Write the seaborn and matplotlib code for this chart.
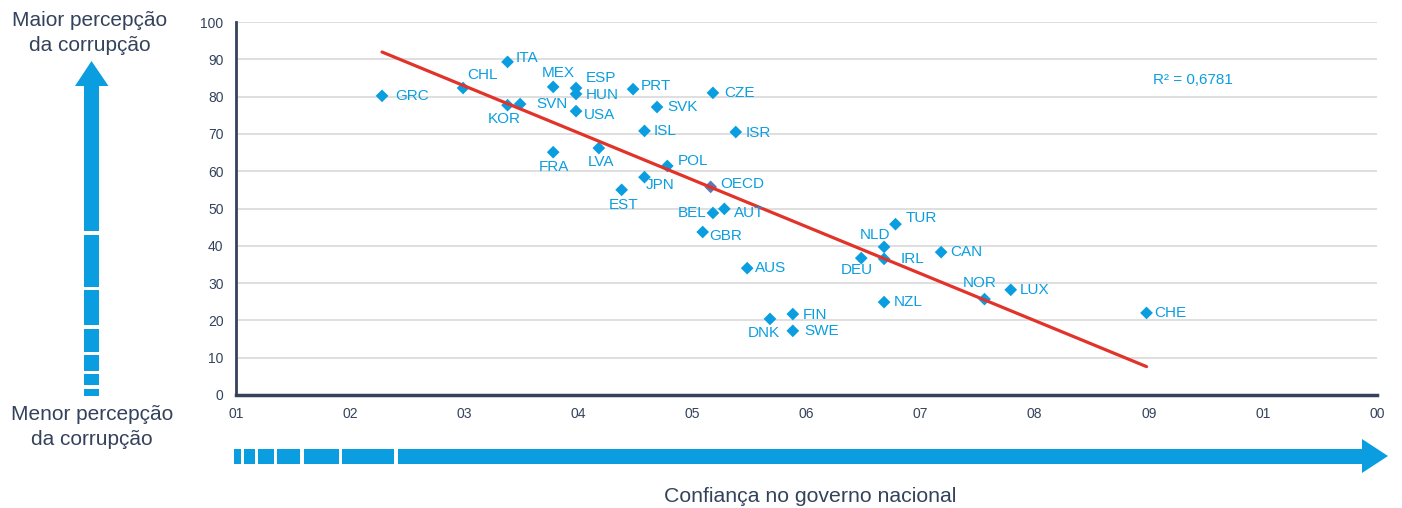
import matplotlib

matplotlib.use("Agg")

import matplotlib.pyplot as plt
import numpy as np
import pandas as pd
import seaborn as sns
from matplotlib.patches import Polygon, Rectangle

# Data
countries = [
    "GRC", "CHL", "ITA", "KOR", "SVN", "MEX", "ESP", "HUN", "USA", "FRA",
    "LVA", "EST", "PRT", "SVK", "ISL", "JPN", "POL", "CZE", "ISR", "OECD",
    "BEL", "AUT", "GBR", "AUS", "DNK", "FIN", "SWE", "TUR", "NLD", "DEU",
    "IRL", "CAN", "NZL", "NOR", "LUX", "CHE",
]
trust = [
    12.8, 19.9, 23.8, 23.8, 24.9, 27.8, 29.8, 29.8, 29.8, 27.8,
    31.8, 33.8, 34.8, 36.9, 35.8, 35.8, 37.8, 41.8, 43.8, 41.6,
    41.8, 42.8, 40.9, 44.8, 46.8, 48.8, 48.8, 57.8, 56.8, 54.8,
    56.8, 61.8, 56.8, 65.6, 67.9, 79.8,
]
corruption = [
    80.2, 82.3, 89.3, 77.7, 78.0, 82.6, 82.3, 80.7, 76.1, 65.1,
    66.2, 55.0, 82.0, 77.2, 70.8, 58.4, 61.4, 81.0, 70.5, 55.8,
    48.8, 49.9, 43.7, 34.0, 20.4, 21.7, 17.2, 45.8, 39.7, 36.7,
    36.5, 38.3, 24.9, 25.7, 28.2, 22.0,
]
x_ticks = [0, 10, 20, 30, 40, 50, 60, 70, 80, 90, 100]
x_tick_labels = ["01", "02", "03", "04", "05", "06", "07", "08", "09", "01", "00"]
y_ticks = [0, 10, 20, 30, 40, 50, 60, 70, 80, 90, 100]
r2_text = "R² = 0,6781"

# label placement: (dx px, dy px downwards, horizontal alignment)
label_pos = {
    "GRC": (13, 0, "left"), "CHL": (4, -13, "left"), "ITA": (8, -4, "left"),
    "KOR": (-3, 14, "center"), "SVN": (16, 0, "left"), "MEX": (5, -14, "center"),
    "ESP": (10, -10, "left"), "HUN": (10, 1, "left"), "USA": (8, 4, "left"),
    "FRA": (1, 15, "center"), "LVA": (2, 14, "center"), "EST": (2, 15, "center"),
    "PRT": (8, -3, "left"), "SVK": (10, 0, "left"), "ISL": (9, 0, "left"),
    "JPN": (1, 8, "left"), "POL": (10, -5, "left"), "CZE": (11, 0, "left"),
    "ISR": (10, 1, "left"), "OECD": (10, -3, "left"), "BEL": (-6, 0, "right"),
    "AUT": (10, 4, "left"), "GBR": (7, 4, "left"), "AUS": (8, 0, "left"),
    "DNK": (-6, 14, "center"), "FIN": (10, 1, "left"), "SWE": (12, 0, "left"),
    "TUR": (10, -6, "left"), "NLD": (-9, -12, "center"), "DEU": (-4, 12, "center"),
    "IRL": (17, 0, "left"), "CAN": (9, 0, "left"), "NZL": (10, 0, "left"),
    "NOR": (-5, -16, "center"), "LUX": (9, 0, "left"), "CHE": (8, 0, "left"),
}

BLUE = "#0a9ee0"
NAVY = "#34425c"
RED = "#e2332a"
W, H = 1402, 508

sns.set_theme(style="white")
plt.rcParams["font.family"] = ["Liberation Sans", "DejaVu Sans"]

df = pd.DataFrame({"country": countries, "trust": trust, "corruption": corruption})

fig = plt.figure(figsize=(W / 100, H / 100), dpi=100)
ax = fig.add_axes([236 / W, 1 - 395 / H, (1377 - 236) / W, (395 - 22) / H])

sns.scatterplot(
    data=df[df["country"] != "OECD"], x="trust", y="corruption",
    marker="D", s=42, color=BLUE, edgecolor="none", ax=ax, zorder=3,
)
sns.scatterplot(
    data=df[df["country"] == "OECD"], x="trust", y="corruption",
    marker="D", s=42, color="#5a78b4", edgecolor="none", ax=ax, zorder=3,
)
sns.regplot(
    data=df, x="trust", y="corruption", scatter=False, ci=None, truncate=True,
    line_kws={"color": RED, "linewidth": 2.3, "zorder": 4}, ax=ax,
)

for name, xv, yv in zip(countries, trust, corruption):
    dx, dy, ha = label_pos[name]
    ax.annotate(
        name, (xv, yv), xytext=(dx, -dy), textcoords="offset pixels",
        ha=ha, va="center", fontsize=11, color=BLUE, zorder=5,
    )

ax.text(0.804, 0.845, r2_text, transform=ax.transAxes, fontsize=11, color=BLUE,
        ha="left", va="center")

ax.set_xlim(0, 100)
ax.set_ylim(0, 100)
ax.set_xticks(x_ticks)
ax.set_xticklabels(x_tick_labels)
ax.set_yticks(y_ticks)
ax.set_xlabel("")
ax.set_ylabel("")
ax.yaxis.grid(True, color="#dcdcdc", linewidth=1.3)
ax.xaxis.grid(False)
ax.set_axisbelow(True)
ax.tick_params(axis="y", length=0, pad=9, labelsize=10, labelcolor=NAVY)
ax.tick_params(axis="x", length=0, pad=9, labelsize=10, labelcolor=NAVY)
for side in ["top", "right"]:
    ax.spines[side].set_visible(False)
ax.spines["left"].set_color(NAVY)
ax.spines["left"].set_linewidth(2)
ax.spines["bottom"].set_color(NAVY)
ax.spines["bottom"].set_linewidth(2.5)


def fx(px):
    return px / W


def fy(py):
    return 1 - py / H


def add_rect(x0, y0, x1, y1):
    fig.patches.append(Rectangle((fx(x0), fy(y1)), fx(x1) - fx(x0), fy(y0) - fy(y1),
                                 transform=fig.transFigure, color=BLUE, lw=0))


# vertical arrow (segmented toward the bottom)
for y0, y1 in [(86, 231), (235, 287), (290, 325), (329, 352), (355, 371), (374, 385), (389, 396)]:
    add_rect(84, y0, 99, y1)
fig.patches.append(Polygon([(fx(75), fy(86)), (fx(108.5), fy(86)), (fx(91.5), fy(61))],
                           closed=True, transform=fig.transFigure, color=BLUE, lw=0))

# horizontal arrow (segmented toward the left)
for x0, x1 in [(234, 241), (244, 255), (258, 274), (277, 300), (304, 339), (342, 394), (398, 1363)]:
    add_rect(x0, 449, x1, 464)
fig.patches.append(Polygon([(fx(1362), fy(439)), (fx(1362), fy(473)), (fx(1388), fy(456))],
                           closed=True, transform=fig.transFigure, color=BLUE, lw=0))

fig.text(fx(90), fy(33), "Maior percepção\nda corrupção", ha="center", va="center",
         fontsize=15, color=NAVY, linespacing=1.4)
fig.text(fx(92), fy(427), "Menor percepção\nda corrupção", ha="center", va="center",
         fontsize=15, color=NAVY, linespacing=1.4)
fig.text(fx(810), fy(496), "Confiança no governo nacional", ha="center", va="center",
         fontsize=15.3, color=NAVY)

fig.savefig("out.png", dpi=100)
plt.close(fig)
